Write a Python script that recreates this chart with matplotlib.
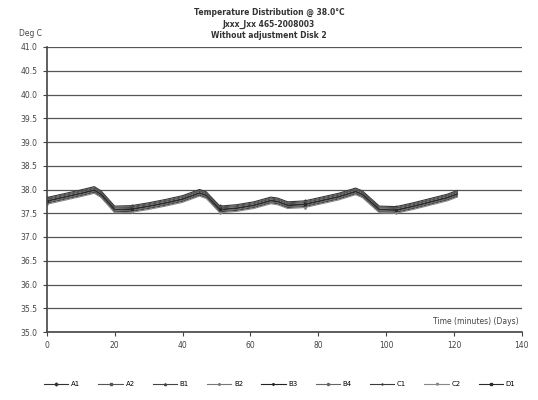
import matplotlib
matplotlib.use("Agg")
import matplotlib.pyplot as plt

# elapsed time (minutes) and the probe readings (deg C)
t = [0, 5, 10, 14, 16, 20, 25, 30, 35, 40, 45, 47, 51, 56, 61, 66, 68, 71,
     76, 81, 86, 91, 93, 98, 103, 108, 113, 118, 121]

s1 = [37.83, 37.91, 37.99, 38.06, 37.97, 37.65, 37.66, 37.72, 37.79, 37.87, 38.00, 37.95, 37.65, 37.68, 37.74,
      37.84, 37.82, 37.74, 37.76, 37.84, 37.92, 38.03, 37.97, 37.65, 37.64, 37.72, 37.81, 37.90, 37.98]
s2 = [37.81, 37.89, 37.97, 38.04, 37.95, 37.63, 37.64, 37.70, 37.77, 37.85, 37.98, 37.93, 37.63, 37.66, 37.72,
      37.82, 37.80, 37.72, 37.74, 37.82, 37.90, 38.01, 37.95, 37.63, 37.62, 37.70, 37.79, 37.88, 37.96]
s3 = [37.79, 37.87, 37.95, 38.02, 37.93, 37.61, 37.62, 37.68, 37.75, 37.83, 37.96, 37.91, 37.61, 37.64, 37.70,
      37.80, 37.78, 37.70, 37.72, 37.80, 37.88, 37.99, 37.93, 37.61, 37.60, 37.68, 37.77, 37.86, 37.94]
s4 = [37.77, 37.85, 37.93, 38.00, 37.91, 37.59, 37.60, 37.66, 37.73, 37.81, 37.94, 37.89, 37.59, 37.62, 37.68,
      37.78, 37.76, 37.68, 37.70, 37.78, 37.86, 37.97, 37.91, 37.59, 37.58, 37.66, 37.75, 37.84, 37.92]
s5 = [37.75, 37.83, 37.91, 37.98, 37.89, 37.57, 37.58, 37.64, 37.71, 37.79, 37.92, 37.87, 37.57, 37.60, 37.66,
      37.76, 37.74, 37.66, 37.68, 37.76, 37.84, 37.95, 37.89, 37.57, 37.56, 37.64, 37.73, 37.82, 37.90]
s6 = [37.73, 37.81, 37.89, 37.96, 37.87, 37.55, 37.56, 37.62, 37.69, 37.77, 37.90, 37.85, 37.55, 37.58, 37.64,
      37.74, 37.72, 37.64, 37.66, 37.74, 37.82, 37.93, 37.87, 37.55, 37.54, 37.62, 37.71, 37.80, 37.88]
s7 = [37.71, 37.79, 37.87, 37.94, 37.85, 37.53, 37.54, 37.60, 37.67, 37.75, 37.88, 37.83, 37.53, 37.56, 37.62,
      37.72, 37.70, 37.62, 37.64, 37.72, 37.80, 37.91, 37.85, 37.53, 37.52, 37.60, 37.69, 37.78, 37.86]
s8 = [37.69, 37.77, 37.85, 37.92, 37.83, 37.51, 37.52, 37.58, 37.65, 37.73, 37.86, 37.81, 37.51, 37.54, 37.60,
      37.70, 37.68, 37.60, 37.62, 37.70, 37.78, 37.89, 37.83, 37.51, 37.50, 37.58, 37.67, 37.76, 37.84]
s9 = [37.76, 37.84, 37.92, 37.99, 37.90, 37.58, 37.59, 37.65, 37.72, 37.80, 37.93, 37.88, 37.58, 37.61, 37.67,
      37.77, 37.75, 37.67, 37.69, 37.77, 37.85, 37.96, 37.90, 37.58, 37.57, 37.65, 37.74, 37.83, 37.91]

series = [s1, s2, s3, s4, s5, s6, s7, s8, s9]
names = ["A1", "A2", "B1", "B2", "B3", "B4", "C1", "C2", "D1"]

y_ticks = [35.0, 35.5, 36.0, 36.5, 37.0, 37.5, 38.0, 38.5, 39.0, 39.5, 40.0, 40.5, 41.0]
x_ticks = [0, 20, 40, 60, 80, 100, 120, 140]

markers = ["D", "s", "^", "x", "*", "o", "+", "v", "s"]
shades = ["#333333", "#555555", "#444444", "#777777", "#222222", "#666666", "#3a3a3a", "#888888", "#2a2a2a"]

fig = plt.figure(figsize=(5.38, 4.0), dpi=100)
ax = fig.add_axes([0.087, 0.17, 0.883, 0.7125])

for vals, name, mk, c in zip(series, names, markers, shades):
    ax.plot(t, vals, color=c, linewidth=0.8, marker=mk, markersize=1.5,
            markevery=6, label=name)

ax.set_xlim(0, 140)
ax.set_ylim(35.0, 41.0)
ax.set_xticks(x_ticks)
ax.set_yticks(y_ticks)
ax.set_yticklabels([f"{v:.1f}" for v in y_ticks])
ax.tick_params(labelsize=5.5, colors="#444444", length=3)
ax.grid(axis="y", color="#555555", linewidth=0.9)
ax.set_axisbelow(True)
for side in ["top", "right"]:
    ax.spines[side].set_visible(False)
ax.spines["left"].set_color("#444444")
ax.spines["bottom"].set_color("#444444")
ax.spines["left"].set_linewidth(1.2)
ax.spines["bottom"].set_linewidth(1.2)

fig.text(0.035, 0.915, "Deg C", fontsize=5.5, color="#444444", ha="left", va="center")
ax.text(139, 35.12, "Time (minutes) (Days)", fontsize=5.5, color="#444444",
        ha="right", va="bottom")

fig.text(0.5, 0.97, "Temperature Distribution @ 38.0\u00b0C", fontsize=5.5, fontweight="bold",
         ha="center", va="center", color="#333333")
fig.text(0.5, 0.94, "Jxxx_Jxx 465-2008003", fontsize=5.5, fontweight="bold",
         ha="center", va="center", color="#333333")
fig.text(0.5, 0.91, "Without adjustment Disk 2", fontsize=5.5, fontweight="bold",
         ha="center", va="center", color="#333333")

fig.legend(loc="center", bbox_to_anchor=(0.52, 0.04), ncol=9, fontsize=5,
           frameon=False, handlelength=3.5, columnspacing=2.6, handletextpad=0.4)

fig.savefig("out.png", dpi=100)
